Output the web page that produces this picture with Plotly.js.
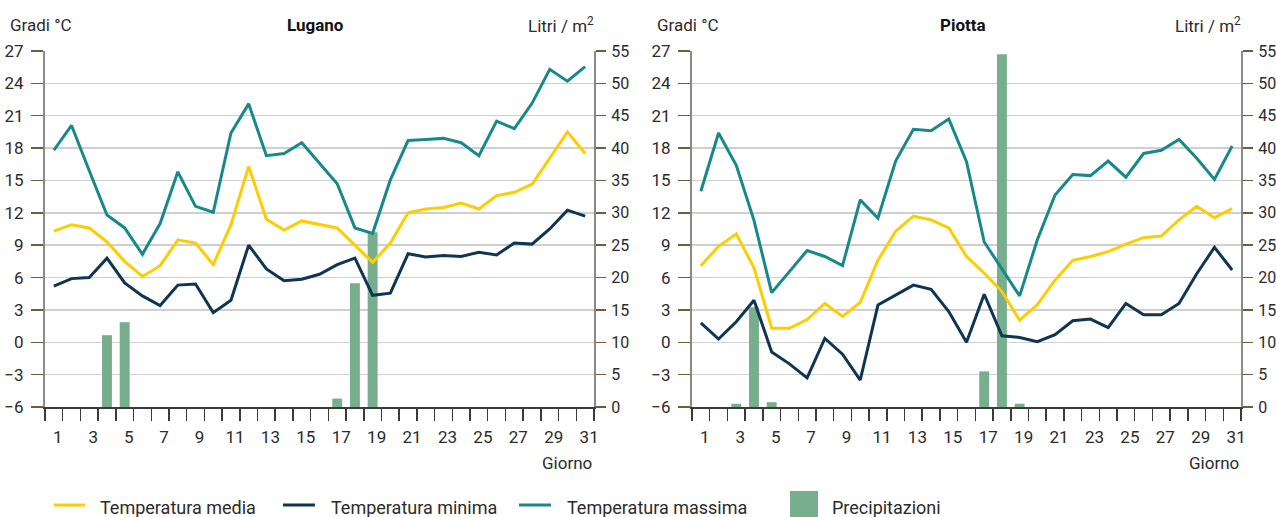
<!DOCTYPE html>
<html>
<head>
<meta charset="utf-8">
<script src="https://cdn.plot.ly/plotly-3.0.1.min.js"></script>
<style>
html,body{margin:0;padding:0;background:#fff;}
#chart{width:1276px;height:517px;}
</style>
</head>
<body>
<div id="chart"></div>
<script>
const days = Array.from({length: 31}, (_, i) => i + 1);

const luganoMedia = [10.3,10.9,10.6,9.3,7.5,6.1,7.1,9.5,9.2,7.2,10.9,16.3,11.4,10.4,11.25,10.95,10.6,9.0,7.4,9.2,12.0,12.35,12.5,12.9,12.35,13.6,13.9,14.65,17.05,19.5,17.5];
const luganoMinima = [5.2,5.9,6.0,7.8,5.5,4.3,3.4,5.3,5.4,2.75,3.9,9.0,6.8,5.7,5.85,6.3,7.2,7.8,4.35,4.55,8.2,7.9,8.05,7.95,8.35,8.1,9.2,9.1,10.5,12.25,11.7];
const luganoMassima = [17.8,20.1,15.9,11.8,10.6,8.15,11.0,15.8,12.6,12.05,19.4,22.1,17.3,17.5,18.5,16.65,14.7,10.6,10.1,15.05,18.7,18.8,18.9,18.5,17.3,20.5,19.8,22.15,25.3,24.2,25.55];
const luganoPrec = [0,0,0,11.1,13.1,0,0,0,0,0,0,0,0,0,0,0,1.3,19.1,27.0,0,0,0,0,0,0,0,0,0,0,0,0];

const piottaMedia = [7.1,8.9,10.05,6.9,1.3,1.3,2.1,3.6,2.4,3.7,7.6,10.3,11.7,11.35,10.6,7.95,6.4,4.7,2.05,3.5,5.75,7.6,7.95,8.4,9.1,9.7,9.85,11.35,12.6,11.55,12.4];
const piottaMinima = [1.8,0.3,1.9,3.9,-0.9,-2.0,-3.3,0.35,-1.1,-3.5,3.45,4.35,5.3,4.9,2.85,0.0,4.45,0.6,0.45,0.05,0.7,2.0,2.15,1.35,3.6,2.55,2.55,3.6,6.35,8.8,6.7];
const piottaMassima = [14.0,19.4,16.4,11.3,4.6,6.5,8.5,7.95,7.1,13.2,11.5,16.8,19.75,19.6,20.7,16.75,9.3,6.8,4.3,9.5,13.65,15.55,15.45,16.8,15.3,17.5,17.8,18.8,17.05,15.1,18.2];
const piottaPrec = [0,0,0.5,15.4,0.75,0,0,0,0,0,0,0,0,0,0,0,5.5,54.5,0.5,0,0,0,0,0,0,0,0,0,0,0,0];

const tempTicks = [-6,-3,0,3,6,9,12,15,18,21,24,27];
const precTicks = [0,5,10,15,20,25,30,35,40,45,50,55];
const dayLabels = [1,3,5,7,9,11,13,15,17,19,21,23,25,27,29,31];
const dayBounds = Array.from({length: 32}, (_, i) => i + 0.5);

const titles = ["Lugano", "Piotta"];
const legendNames = ["Temperatura media", "Temperatura minima", "Temperatura massima", "Precipitazioni"];

const C_MEDIA = "#ffcc00";
const C_MIN = "#0e3553";
const C_MAX = "#17898b";
const C_PREC = "#77ae8e";

const FONT = "Roboto, 'Liberation Sans', sans-serif";
const TXT = "#2b2b2b";
const W = 1276, H = 517;
const px = v => v / W;
const py = v => 1 - v / H;

const panels = [
  {left: 45, right: 594, media: luganoMedia, min: luganoMinima, max: luganoMassima, prec: luganoPrec},
  {left: 692, right: 1241, media: piottaMedia, min: piottaMinima, max: piottaMassima, prec: piottaPrec}
];

const data = [];
const layout = {
  width: W, height: H,
  margin: {l: 0, r: 0, t: 0, b: 0},
  paper_bgcolor: "#fff", plot_bgcolor: "rgba(0,0,0,0)",
  showlegend: false,
  font: {family: FONT, size: 17, color: TXT},
  annotations: [], shapes: [],
  bargap: 0.44
};

const yDom = [py(407), py(51)];

panels.forEach((p, i) => {
  const xa = i === 0 ? "x" : "x2";
  const yP = i === 0 ? "y" : "y3";   // precipitation (base, right)
  const yT = i === 0 ? "y2" : "y4";  // temperature (overlay, left)
  const xKey = i === 0 ? "xaxis" : "xaxis2";
  const yPKey = i === 0 ? "yaxis" : "yaxis3";
  const yTKey = i === 0 ? "yaxis2" : "yaxis4";

  data.push({type: "bar", x: days, y: p.prec, xaxis: xa, yaxis: yP, marker: {color: C_PREC, line: {width: 0}}, width: 0.56, name: legendNames[3], hoverinfo: "y"});
  data.push({type: "scatter", mode: "lines", x: days, y: p.max, xaxis: xa, yaxis: yT, line: {color: C_MAX, width: 3}, name: legendNames[2]});
  data.push({type: "scatter", mode: "lines", x: days, y: p.media, xaxis: xa, yaxis: yT, line: {color: C_MEDIA, width: 3}, name: legendNames[0]});
  data.push({type: "scatter", mode: "lines", x: days, y: p.min, xaxis: xa, yaxis: yT, line: {color: C_MIN, width: 3}, name: legendNames[1]});

  layout[xKey] = {
    domain: [px(p.left), px(p.right)],
    anchor: yP,
    range: [0.5, 31.5],
    tickmode: "array", tickvals: dayLabels, ticktext: dayLabels.map(String),
    ticks: "", showgrid: false, zeroline: false,
    showline: true, linecolor: "#3a3a3a", linewidth: 1.5,
    tickfont: {family: FONT, size: 17, color: TXT},
    ticklabelstandoff: 14, ticklabelshift: 4,
    minor: {tickmode: "array", tickvals: dayBounds, ticks: "outside", ticklen: 12, tickwidth: 1.5, tickcolor: "#3a3a3a", showgrid: false},
    fixedrange: true
  };
  layout[yPKey] = {
    domain: yDom, anchor: xa, side: "right",
    range: [0, 55], tickmode: "array", tickvals: precTicks,
    ticks: "outside", ticklen: 10, tickwidth: 1.5, tickcolor: "#6e5c40",
    showline: true, linecolor: "#8a8a8a", linewidth: 2,
    showgrid: true, gridcolor: "#cfcfcf", gridwidth: 1.5, zeroline: false,
    tickfont: {family: FONT, size: 16, color: TXT},
    ticklabelstandoff: 2, fixedrange: true
  };
  layout[yTKey] = {
    domain: yDom, anchor: xa, overlaying: yP, side: "left",
    range: [-6, 27], tickmode: "array", tickvals: tempTicks,
    ticks: "outside", ticklen: 12, tickwidth: 1.5, tickcolor: "#6e5c40",
    showline: true, linecolor: "#8a8a8a", linewidth: 2,
    showgrid: false, zeroline: false,
    tickfont: {family: FONT, size: 17, color: TXT},
    ticklabelstandoff: 4, fixedrange: true
  };

  layout.annotations.push(
    {xref: "paper", yref: "paper", x: px(p.left - 37), y: py(25), xanchor: "left", yanchor: "middle", text: "Gradi °C", showarrow: false, font: {family: FONT, size: 17, color: TXT}},
    {xref: "paper", yref: "paper", x: px((p.left + p.right) / 2 - 4), y: py(25), xanchor: "center", yanchor: "middle", text: "<b>" + titles[i] + "</b>", showarrow: false, font: {family: FONT, size: 17, color: "#111"}},
    {xref: "paper", yref: "paper", x: px(p.right + 2), y: py(25), xanchor: "right", yanchor: "middle", text: "Litri / m<sup>2</sup>", showarrow: false, font: {family: FONT, size: 17, color: TXT}},
    {xref: "paper", yref: "paper", x: px(p.right), y: py(463), xanchor: "right", yanchor: "middle", text: "Giorno", showarrow: false, font: {family: FONT, size: 17, color: TXT}}
  );
});

// legend
const legItems = [
  {x0: 54, x1: 85, tx: 98, color: C_MEDIA, name: legendNames[0]},
  {x0: 283, x1: 315, tx: 329, color: C_MIN, name: legendNames[1]},
  {x0: 519, x1: 551, tx: 565, color: C_MAX, name: legendNames[2]}
];
legItems.forEach(it => {
  layout.shapes.push({type: "line", xref: "paper", yref: "paper", x0: px(it.x0), x1: px(it.x1), y0: py(505), y1: py(505), line: {color: it.color, width: 3}});
  layout.annotations.push({xref: "paper", yref: "paper", x: px(it.tx), y: py(508), xanchor: "left", yanchor: "middle", text: it.name, showarrow: false, font: {family: FONT, size: 18, color: TXT}});
});
layout.shapes.push({type: "rect", xref: "paper", yref: "paper", x0: px(790), x1: px(818), y0: py(517), y1: py(491), fillcolor: C_PREC, line: {width: 0}});
layout.annotations.push({xref: "paper", yref: "paper", x: px(830), y: py(508), xanchor: "left", yanchor: "middle", text: legendNames[3], showarrow: false, font: {family: FONT, size: 18, color: TXT}});

Plotly.newPlot("chart", data, layout, {displayModeBar: false, staticPlot: true});
</script>
</body>
</html>
